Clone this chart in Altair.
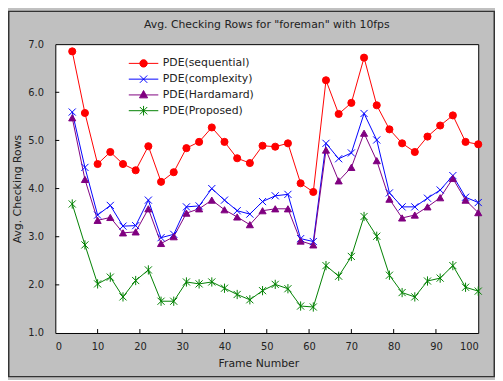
import altair as alt
import pandas as pd

frames = [4, 7, 10, 13, 16, 19, 22, 25, 28, 31, 34, 37, 40, 43, 46, 49, 52,
          55, 58, 61, 64, 67, 70, 73, 76, 79, 82, 85, 88, 91, 94, 97, 100]
seq = [6.85, 5.57, 4.51, 4.76, 4.51, 4.38, 4.88, 4.14, 4.34, 4.84, 4.97, 5.27,
       4.97, 4.63, 4.53, 4.89, 4.87, 4.94, 4.11, 3.93, 6.25, 5.55, 5.78, 6.72,
       5.73, 5.23, 4.94, 4.76, 5.08, 5.31, 5.52, 4.97, 4.92]
cplx = [5.59, 4.44, 3.45, 3.65, 3.22, 3.23, 3.76, 2.98, 3.05, 3.62, 3.64, 4.00,
        3.76, 3.54, 3.47, 3.73, 3.85, 3.88, 2.96, 2.90, 4.94, 4.62, 4.74, 5.56,
        5.01, 3.91, 3.62, 3.62, 3.80, 3.97, 4.27, 3.82, 3.71]
hada = [5.47, 4.19, 3.34, 3.40, 3.08, 3.10, 3.58, 2.86, 3.00, 3.49, 3.58, 3.76,
        3.56, 3.41, 3.25, 3.54, 3.58, 3.58, 2.91, 2.83, 4.80, 4.16, 4.44, 5.15,
        4.58, 3.78, 3.39, 3.45, 3.62, 3.81, 4.21, 3.76, 3.50]
prop = [3.68, 2.83, 2.02, 2.16, 1.75, 2.09, 2.31, 1.66, 1.66, 2.06, 2.02, 2.06,
        1.93, 1.80, 1.69, 1.88, 2.01, 1.92, 1.56, 1.54, 2.40, 2.18, 2.59, 3.42,
        3.01, 2.20, 1.84, 1.75, 2.08, 2.14, 2.40, 1.95, 1.87]

series_names = ["PDE(sequential)", "PDE(complexity)", "PDE(Hardamard)", "PDE(Proposed)"]
marker_keys = ["m_circle", "m_x", "m_triangle", "m_star"]
series_values = [seq, cplx, hada, prop]
colors = ["#ff0000", "#0000ff", "#800080", "#008000"]
xticks = [10, 20, 30, 40, 50, 60, 70, 80, 90]
yticks = [2.0, 3.0, 4.0, 5.0, 6.0]

X_MARK = "M-1,-1L1,1M-1,1L1,-1"
STAR_MARK = "M-1,-1L1,1M-1,1L1,-1M0,-1.3L0,1.3"
shapes = ["circle", X_MARK, "triangle-up", STAR_MARK]
legend_paths = [
    "M-4,0H4M1,0A1,1 0 1,1 -1,0A1,1 0 1,1 1,0Z",
    "M-4,0H4" + X_MARK,
    "M-4,0H4M0,-1.2L1.1,0.8L-1.1,0.8Z",
    "M-4,0H4" + STAR_MARK,
]

rows = []
for name, mk, vals in zip(series_names, marker_keys, series_values):
    for f, v in zip(frames, vals):
        rows.append({"frame": f, "value": v, "series": name, "marker": mk})
df = pd.DataFrame(rows)

W, H = 429, 293
FONT = "DejaVu Sans"
TXT = "#222222"

sig = "'" + legend_paths[-1] + "'"
for name, p in reversed(list(zip(series_names[:-1], legend_paths[:-1]))):
    sig = f"datum.value === '{name}' ? '{p}' : ({sig})"

x_axis = alt.Axis(title="Frame Number", values=list(range(0, 101, 10)),
                  ticks=False, tickSize=0, domain=False, grid=False,
                  labelPadding=9, titlePadding=6, labelFontSize=10,
                  titleFontSize=11, titleFontWeight="normal",
                  labelFont=FONT, titleFont=FONT, labelColor=TXT,
                  titleColor=TXT, titleX=206)
y_axis = alt.Axis(title="Avg. Checking Rows", values=[1, 2, 3, 4, 5, 6, 7],
                  format=".1f", ticks=False, tickSize=0, domain=False,
                  grid=False, labelPadding=12, titlePadding=5,
                  labelFontSize=10, titleFontSize=11,
                  titleFontWeight="normal", labelFont=FONT,
                  titleFont=FONT, labelColor=TXT, titleColor=TXT)
x_enc = alt.X("frame:Q", scale=alt.Scale(domain=[0, 100], nice=False), axis=x_axis)
y_enc = alt.Y("value:Q", scale=alt.Scale(domain=[1, 7], nice=False, zero=False), axis=y_axis)

cscale = alt.Scale(domain=series_names, range=colors)
legend = alt.Legend(
    orient="none", legendX=84, legendY=14, title=None,
    symbolSize=56, labelOffset=14, rowPadding=3, padding=0,
    labelFont=FONT, labelFontSize=11, labelColor=TXT,
    symbolStrokeWidth=1, symbolOpacity=1,
    symbolType={"expr": sig})

lines = alt.Chart(df).mark_line(strokeWidth=1).encode(
    x=x_enc, y=y_enc,
    color=alt.Color("series:N", scale=cscale, legend=legend),
    detail="series:N",
)

points = alt.Chart(df).mark_point(filled=False, size=52, strokeWidth=1, opacity=1).encode(
    x=x_enc, y=y_enc,
    color=alt.Color("series:N", scale=cscale, legend=legend),
    fill=alt.Fill("series:N", scale=alt.Scale(domain=series_names, range=colors), legend=None),
    shape=alt.Shape("marker:N", scale=alt.Scale(domain=marker_keys, range=shapes), legend=None),
)

xt = alt.Chart(pd.DataFrame({"frame": xticks})).mark_rule(color="black", strokeWidth=1).encode(
    x=x_enc, y=alt.value(H), y2=alt.value(H - 4))
yt = alt.Chart(pd.DataFrame({"value": yticks})).mark_rule(color="black", strokeWidth=1).encode(
    y=y_enc, x=alt.value(0), x2=alt.value(4))

border = alt.Chart(pd.DataFrame({"a": [0]})).mark_rect(
    fill="transparent", stroke="#333333", strokeWidth=1.5).encode(
    x=alt.value(-47.25), x2=alt.value(W + 16.25),
    y=alt.value(-33.25), y2=alt.value(H + 44.25))

chart = alt.layer(lines, points, xt, yt, border).properties(
    width=W, height=H,
    title=alt.TitleParams("Avg. Checking Rows for \"foreman\" with 10fps",
                          font=FONT, fontSize=11, fontWeight="normal",
                          color=TXT, offset=12, dy=32),
    autosize=alt.AutoSizeParams(type="none"),
    padding={"left": 48, "top": 34, "right": 17, "bottom": 45},
    background="#c0c0c0",
).configure_view(fill="white", stroke="black", strokeWidth=1)

chart.save("out.html", embed_options={"renderer": "svg", "actions": False})
